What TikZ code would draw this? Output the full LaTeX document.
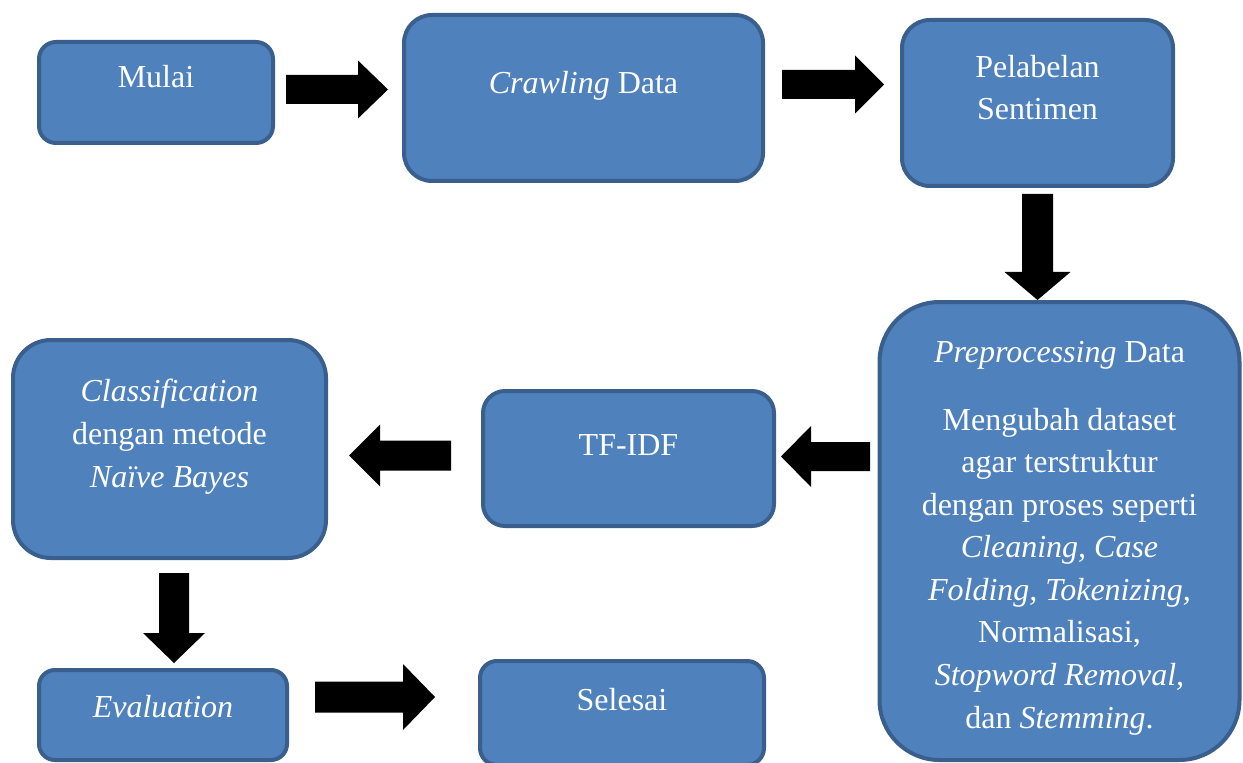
\documentclass[tikz,border=0pt]{standalone}
\usepackage{fontspec}
\setmainfont{Liberation Serif}
\usetikzlibrary{calc}
\definecolor{boxfill}{HTML}{4F81BD}
\definecolor{boxline}{HTML}{3A5F8D}
\tikzset{
  box/.style={draw=boxline, fill=boxfill, line width=3pt, inner sep=0pt, outer sep=0pt},
  lbl/.style={text=white, inner sep=0pt, align=center, font=\fontsize{24}{31.9}\selectfont},
}
\newcommand\blockarrow[5]{%
  \path ($(#2)!#5!(#1)$) coordinate (bab);
  \fill[black] ($(#1)!#3!90:(#2)$) -- ($(bab)!#3!-90:(#1)$) -- ($(bab)!#4!-90:(#1)$) -- (#2)
    -- ($(bab)!#4!90:(#1)$) -- ($(bab)!#3!90:(#1)$) -- ($(#1)!#3!-90:(#2)$) -- cycle;}
\begin{document}
\begin{tikzpicture}[x=0.75pt, y=-0.75pt]
\useasboundingbox (0,0) rectangle (1243,763);
% boxes
\node[box, minimum width=175.5pt, minimum height=75.75pt, rounded corners=12.75pt] (mulai) at (156,92.5) {};
\node[box, minimum width=269.25pt, minimum height=124.5pt, rounded corners=21pt] (crawl) at (583.5,98) {};
\node[box, minimum width=203.25pt, minimum height=124.5pt, rounded corners=21pt] (label) at (1037.5,103) {};
\node[box, minimum width=270pt, minimum height=343.5pt, rounded corners=45pt] (prep) at (1059.5,531) {};
\node[box, minimum width=218.25pt, minimum height=101.25pt, rounded corners=16.5pt] (tfidf) at (628.5,458.5) {};
\node[box, minimum width=234.75pt, minimum height=163.5pt, rounded corners=28.5pt] (clas) at (169.5,449) {};
\node[box, minimum width=186pt, minimum height=67.5pt, rounded corners=12pt] (eval) at (163,715) {};
\node[box, minimum width=213pt, minimum height=78pt, rounded corners=12.75pt] (selesai) at (622,713) {};
% texts (multi-line nodes: base = baseline of last line)
\node[lbl, anchor=base] (tmulai) at (156,88) {Mulai};
\node[lbl, anchor=base] (tcrawl) at (583.5,94) {\textit{Crawling} Data};
\node[lbl, anchor=base] (tlabel) at (1037.5,120) {Pelabelan\\Sentimen};
\node[lbl, anchor=base] (tprep) at (1059.5,362) {\textit{Preprocessing} Data};
\node[lbl, anchor=base] (tprepb) at (1059.5,728) {Mengubah dataset\\agar terstruktur\\dengan proses seperti\\\textit{Cleaning, Case}\\\textit{Folding, Tokenizing,}\\Normalisasi,\\\textit{Stopword Removal,}\\dan \textit{Stemming}.};
\node[lbl, anchor=base] (ttfidf) at (628.5,455) {TF-IDF};
\node[lbl, anchor=base] (tclas) at (169.5,487) {\textit{Classification}\\dengan metode\\\textit{Naïve Bayes}};
\node[lbl, anchor=base] (teval) at (163,717) {\textit{Evaluation}};
\node[lbl, anchor=base] (tselesai) at (622,710) {Selesai};
% arrow end points
\coordinate (a1s) at (286,89.5);   \coordinate (a1e) at (388,89.5);
\coordinate (a2s) at (782,84.5);   \coordinate (a2e) at (884,84.5);
\coordinate (a3s) at (1037.5,194); \coordinate (a3e) at (1037.5,300);
\coordinate (a4s) at (870,456.5);  \coordinate (a4e) at (781,456.5);
\coordinate (a5s) at (451,455.5);  \coordinate (a5e) at (349,455.5);
\coordinate (a6s) at (174,573);    \coordinate (a6e) at (174,663);
\coordinate (a7s) at (315,697);    \coordinate (a7e) at (435,697);
\blockarrow{a1s}{a1e}{10.875pt}{21.75pt}{22.5pt}
\blockarrow{a2s}{a2e}{10.875pt}{21.75pt}{21.75pt}
\blockarrow{a3s}{a3e}{11.625pt}{24.75pt}{21pt}
\blockarrow{a4s}{a4e}{10.875pt}{22.875pt}{22.5pt}
\blockarrow{a5s}{a5e}{11.25pt}{23.25pt}{23.25pt}
\blockarrow{a6s}{a6e}{11.25pt}{23.25pt}{22.5pt}
\blockarrow{a7s}{a7e}{11.625pt}{24.75pt}{24pt}
\end{tikzpicture}
\end{document}
